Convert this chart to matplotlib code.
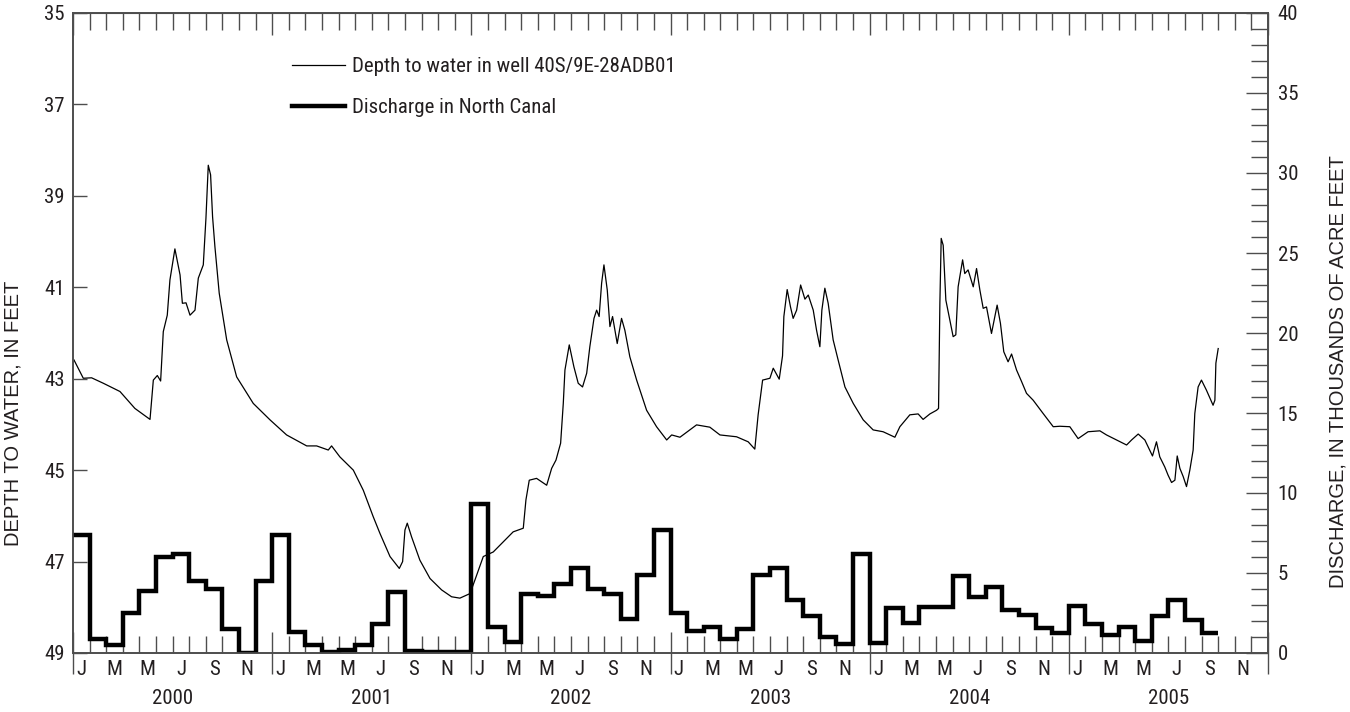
import numpy as np
import matplotlib
matplotlib.use('Agg')
import matplotlib.pyplot as plt
from matplotlib import font_manager

# condensed face like the original; fall back through what is installed
names = {f.name for f in font_manager.fontManager.ttflist}
cond = [n for n in ['Liberation Sans Narrow', 'Roboto Condensed', 'DejaVu Sans Condensed',
                    'Open Sans Condensed'] if n in names]
plt.rcParams['font.family'] = cond + ['DejaVu Sans']
plt.rcParams['font.stretch'] = 'condensed'

# time axis: months since January 2000
years = ['2000', '2001', '2002', '2003', '2004', '2005']
month_letters = ['J', 'F', 'M', 'A', 'M', 'J', 'J', 'A', 'S', 'O', 'N', 'D']

# depth to water in well 40S/9E-28ADB01 (feet)
well_t = [0.06, 0.62, 1.12, 1.83, 2.83, 3.73, 4.64, 4.84, 5.08, 5.28, 5.44, 5.68, 5.84,
          6.14, 6.45, 6.59, 6.81, 7.05, 7.35, 7.55, 7.85, 8.01, 8.15, 8.29, 8.41, 8.55,
          8.81, 9.26, 9.86, 10.86, 11.87, 12.87, 14.08, 14.68, 15.38, 15.58, 16.08, 16.89,
          17.49, 18.09, 18.49, 19.10, 19.66, 19.86, 20.0, 20.14, 20.40, 20.90, 21.51,
          22.21, 22.81, 23.31, 23.92, 24.22, 24.72, 25.32, 25.92, 26.52, 27.13, 27.29,
          27.49, 27.93, 28.54, 28.84, 29.10, 29.38, 29.54, 29.64, 29.90, 30.18, 30.44,
          30.70, 30.95, 31.14, 31.39, 31.55, 31.70, 31.85, 31.99, 32.19, 32.35, 32.51,
          32.79, 33.05, 33.25, 33.55, 33.96, 34.56, 35.16, 35.77, 36.07, 36.57, 37.57,
          38.37, 38.98, 39.98, 40.68, 41.08, 41.28, 41.55, 41.99, 42.19, 42.55, 42.75,
          42.83, 43.03, 43.23, 43.39, 43.60, 43.84, 44.10, 44.30, 44.60, 44.80, 45.0,
          45.12, 45.30, 45.50, 45.80, 46.10, 46.51, 47.01, 47.61, 48.21, 48.81, 49.52,
          49.82, 50.42, 50.92, 51.22, 51.63, 52.03, 52.15, 52.23, 52.31, 52.43, 52.59,
          52.83, 53.03, 53.19, 53.33, 53.60, 53.73, 53.93, 54.24, 54.44, 54.64, 54.84,
          55.04, 55.34, 55.54, 55.68, 55.88, 56.08, 56.34, 56.55, 56.85, 57.15, 57.45,
          57.85, 58.45, 59.06, 59.46, 60.06, 60.56, 61.16, 61.87, 62.27, 62.87, 63.48,
          63.78, 64.18, 64.58, 65.04, 65.28, 65.48, 65.78, 65.98, 66.19, 66.39, 66.53,
          66.69, 66.89, 67.09, 67.29, 67.49, 67.59, 67.79, 67.99, 68.29, 68.69, 68.80,
          68.86, 69.0]
well_depth = [42.59, 42.99, 42.98, 43.10, 43.28, 43.65, 43.89, 43.03, 42.93, 43.05, 41.97,
              41.61, 40.84, 40.16, 40.73, 41.35, 41.34, 41.61, 41.50, 40.80, 40.51, 39.49,
              38.33, 38.54, 39.46, 40.11, 41.13, 42.15, 42.96, 43.54, 43.90, 44.23, 44.47,
              44.47, 44.56, 44.47, 44.71, 45.00, 45.44, 46.02, 46.38, 46.89, 47.15, 47.00,
              46.31, 46.16, 46.46, 46.97, 47.37, 47.62, 47.77, 47.80, 47.70, 47.40, 46.89,
              46.79, 46.57, 46.35, 46.27, 45.65, 45.22, 45.18, 45.33, 44.96, 44.78, 44.41,
              43.54, 42.81, 42.26, 42.74, 43.10, 43.18, 42.88, 42.30, 41.68, 41.50, 41.64,
              40.91, 40.51, 41.06, 41.86, 41.64, 42.23, 41.68, 41.94, 42.52, 43.03, 43.69,
              44.05, 44.34, 44.23, 44.28, 44.01, 44.06, 44.23, 44.27, 44.38, 44.54, 43.79,
              43.03, 42.99, 42.77, 43.01, 42.50, 41.64, 41.05, 41.43, 41.68, 41.50, 40.95,
              41.26, 41.17, 41.50, 41.94, 42.30, 41.50, 41.02, 41.35, 42.15, 42.59, 43.18,
              43.54, 43.90, 44.12, 44.16, 44.28, 44.05, 43.79, 43.77, 43.89, 43.77, 43.69,
              43.65, 41.35, 39.93, 40.08, 41.28, 41.72, 42.08, 42.04, 40.99, 40.40, 40.70,
              40.62, 40.99, 40.59, 41.06, 41.46, 41.43, 42.01, 41.64, 41.39, 41.79, 42.41,
              42.63, 42.46, 42.81, 43.06, 43.32, 43.47, 43.76, 44.05, 44.04, 44.05, 44.31,
              44.16, 44.14, 44.23, 44.34, 44.45, 44.34, 44.21, 44.34, 44.69, 44.38, 44.71,
              44.93, 45.11, 45.27, 45.22, 44.69, 44.96, 45.14, 45.36, 45.00, 44.56, 43.76,
              43.18, 43.03, 43.25, 43.58, 43.47, 42.66, 42.34]

# monthly discharge in North Canal, thousands of acre-feet (Jan 2000 - Sep 2005)
discharge = [7.4, 0.9, 0.5, 2.5, 3.9, 6.0, 6.2, 4.5, 4.0, 1.5, 0.0, 4.5,
             7.4, 1.3, 0.5, 0.05, 0.2, 0.5, 1.8, 3.8, 0.15, 0.05, 0.05, 0.05,
             9.3, 1.65, 0.67, 3.67, 3.56, 4.3, 5.3, 4.0, 3.67, 2.1, 4.9, 7.7,
             2.5, 1.37, 1.65, 0.87, 1.5, 4.9, 5.3, 3.3, 2.3, 1.0, 0.54, 6.2,
             0.65, 2.8, 1.9, 2.9, 2.9, 4.8, 3.5, 4.15, 2.7, 2.4, 1.54, 1.27,
             2.94, 1.8, 1.12, 1.65, 0.77, 2.3, 3.3, 2.06, 1.27]

axis_grey = '#4d4d4d'
text_col = '#231f20'
fs = 15
label_font = dict(fontsize=14.5, color=text_col, family=['Liberation Sans', 'DejaVu Sans'],
                  fontstretch='normal')

fig = plt.figure(figsize=(13.5, 7.12), dpi=100)
ax = fig.add_axes([73 / 1350, 1 - 653 / 712, 1195 / 1350, 640 / 712])

line_well, = ax.plot(well_t, well_depth, color='black', lw=0.9)
ax.set_xlim(0, 72)
ax.set_ylim(49, 35)
ax.set_yticks(np.arange(35, 50, 2))
ax.tick_params(axis='y', direction='in', length=10, width=1, color=axis_grey,
               labelsize=fs, labelcolor=text_col, pad=6)

n_months = 12 * len(years)
ax.set_xticks(np.arange(0, n_months + 1, 12))
ax.set_xticks(np.arange(0, n_months + 1, 1), minor=True)
ax.tick_params(axis='x', which='major', direction='inout', length=30, width=1,
               color=axis_grey, top=False, labelbottom=False)
ax.tick_params(axis='x', which='minor', direction='in', length=12, width=1,
               color=axis_grey, top=True, labelbottom=False)

top = ax.secondary_xaxis('top')
top.set_xticks(np.arange(0, n_months + 1, 12))
top.tick_params(direction='in', length=16, width=1, color=axis_grey, labeltop=False)
top.spines['top'].set_color(axis_grey)

for s in ax.spines.values():
    s.set_color(axis_grey)
    s.set_linewidth(1.2)

trans = ax.get_xaxis_transform()
for m in range(0, n_months, 2):
    ax.text(m + 0.5, -0.026, month_letters[m % 12], transform=trans,
            ha='center', va='center', fontsize=fs, color=text_col)
for k, yr in enumerate(years):
    ax.text(12 * k + 6, -0.071, yr, transform=trans, ha='center', va='center',
            fontsize=fs, color=text_col)

ax.set_ylabel('DEPTH TO WATER, IN FEET', **label_font)
ax.yaxis.set_label_coords(-0.042, 0.375)

ax2 = ax.twinx()
steps = ax2.stairs(discharge, np.arange(len(discharge) + 1), baseline=None,
                   color='black', lw=3.2)
steps.set_joinstyle('miter')
ax2.set_ylim(0, 40)
ax2.set_yticks(np.arange(0, 41, 5))
ax2.set_yticks(np.arange(0, 41, 1), minor=True)
ax2.tick_params(axis='y', which='major', direction='in', length=16, width=1,
                color=axis_grey, labelsize=fs, labelcolor=text_col, pad=7)
ax2.tick_params(axis='y', which='minor', direction='in', length=12, width=1,
                color=axis_grey)
for s in ax2.spines.values():
    s.set_color(axis_grey)
    s.set_linewidth(1.2)
ax2.set_ylabel('DISCHARGE, IN THOUSANDS OF ACRE FEET', **label_font)
ax2.yaxis.set_label_coords(1.051, 0.439)

leg_thick = plt.Line2D([], [], color='black', lw=3.2)
ax.legend([line_well, leg_thick],
          ['Depth to water in well 40S/9E-28ADB01', 'Discharge in North Canal'],
          loc='upper left', bbox_to_anchor=(0.183, 0.931), frameon=False,
          borderpad=0, borderaxespad=0, handlelength=2.55, handletextpad=0.35,
          labelspacing=1.05, fontsize=fs, labelcolor=text_col)

fig.savefig('out.png', dpi=100)
